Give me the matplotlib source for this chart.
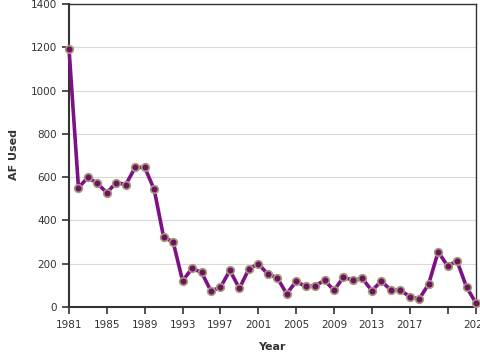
import matplotlib
matplotlib.use("Agg")
import matplotlib.pyplot as plt

years = list(range(1981, 2025))
af_used = [1194, 551, 599, 571, 528, 575, 566, 645, 645, 543,
           322, 301, 121, 178, 160, 74, 91, 169, 86, 175,
           200, 152, 135, 61, 118, 95, 98, 123, 77, 138,
           123, 132, 75, 120, 78, 78, 48, 37, 106, 255,
           190, 212, 92, 18]
xticks = [1981, 1985, 1989, 1993, 1997, 2001, 2005, 2009, 2013, 2017, 2021, 2024]
xticklabels = ["1981", "1985", "1989", "1993", "1997", "2001", "2005", "2009", "2013", "2017", "", "2024"]
yticks = [0, 200, 400, 600, 800, 1000, 1200, 1400]

plt.rcParams['font.family'] = ['DejaVu Sans']
fig = plt.figure(figsize=(4.8, 3.6), dpi=100)
x0, x1, y0, y1 = 69, 476, 4, 307
ax = fig.add_axes([x0/480, 1 - y1/360, (x1-x0)/480, (y1-y0)/360])

ax.plot(years, af_used, color="#7d0f87", lw=2.6, zorder=3, clip_on=False,
        marker="o", ms=5.5, mfc="#6b1260", mec="#a89a7a", mew=1.2)

ax.set_xlim(1981, 2024)
ax.set_ylim(0, 1400)
ax.set_yticks(yticks)
ax.set_xticks(xticks)
ax.set_xticklabels(xticklabels)
ax.grid(axis="y", color="#d9d9d9", lw=0.8)
ax.set_axisbelow(True)
for s in ax.spines.values():
    s.set_color("#333333")
    s.set_linewidth(1.5)
ax.spines['right'].set_linewidth(1.0)
ax.spines['top'].set_linewidth(1.0)
ax.tick_params(axis="both", labelsize=7.5, colors="#333333", length=5, width=1.2, direction="out")
ax.tick_params(axis="x", pad=4)
ax.set_xlabel("Year", fontsize=8, fontweight="bold", color="#333333")
ax.set_ylabel("AF Used", fontsize=8, fontweight="bold", color="#333333")
ax.xaxis.set_label_coords(((272 - x0) / (x1 - x0)), -(347 - y1) / (y1 - y0), transform=ax.transAxes)
ax.yaxis.set_label_coords(-(69 - 14) / (x1 - x0), (y1 - 155) / (y1 - y0), transform=ax.transAxes)
ax.xaxis.label.set_va("center")
ax.yaxis.label.set_va("center")

fig.savefig("out.png", dpi=100)
